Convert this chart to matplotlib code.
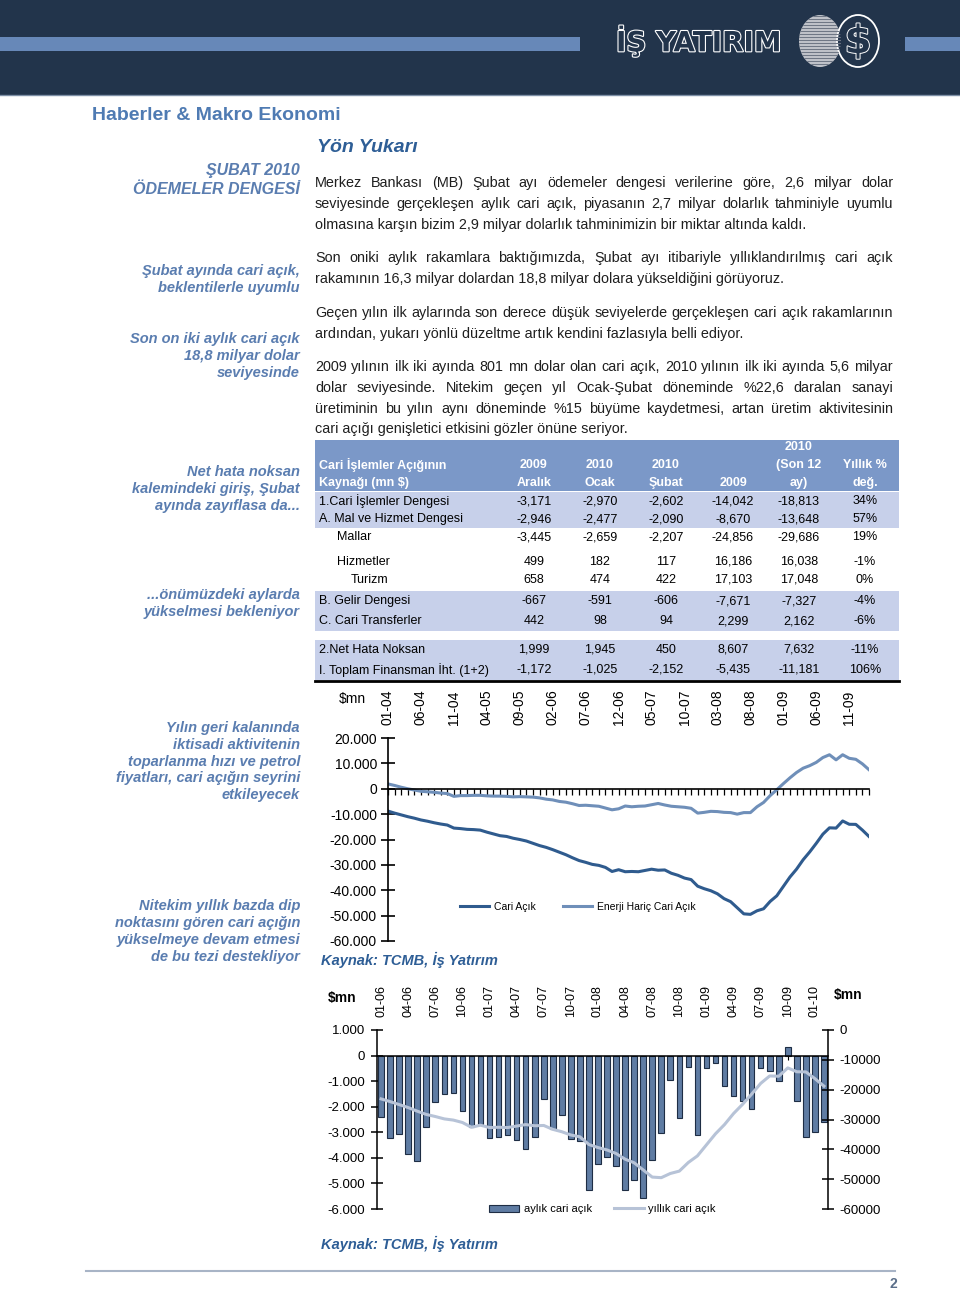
import numpy as np
import matplotlib.pyplot as plt
import matplotlib.patheffects as pe
from matplotlib.patches import Rectangle, Ellipse, Patch
from matplotlib.lines import Line2D
from matplotlib.ticker import FuncFormatter

plt.rcParams['font.family'] = ['Liberation Sans', 'DejaVu Sans']

# --- veri: 12 aylik cari acik ve enerji haric cari acik (01-04 .. 02-10, mn $)
cari_acik = [
    -8800, -9600, -10300, -11000, -11600, -12300, -12800, -13400, -13900, -14300, -15500, -15700,
    -16000, -16100, -16300, -17100, -17800, -18500, -18800, -19500, -20000, -20600, -21500, -22400,
    -23100, -24000, -25000, -26000, -27200, -28300, -29000, -29800, -30200, -31000, -32600, -31900,
    -32700, -32600, -32700, -32200, -31700, -32100, -32000, -33300, -34100, -35200, -35800, -38400,
    -39400, -40200, -41400, -43300, -44500, -46900, -49300, -49500, -48100, -47300, -44400, -42200,
    -38500, -34800, -31700, -28000, -24900, -21500, -17900, -15400, -15500, -12700, -14000, -14042,
    -16300, -18813,
]
enerji_haric = [
    1900, 1300, 600, 0, -500, -1000, -1200, -1400, -1700, -1900, -3000, -2700,
    -2700, -2600, -2600, -2800, -2900, -2900, -3000, -3200, -3100, -3200, -3300, -3600,
    -4100, -4400, -5000, -5300, -5900, -6600, -6500, -6700, -6900, -7600, -8300, -7900,
    -6800, -7100, -6900, -6800, -6300, -5800, -6400, -6900, -7100, -7300, -7700, -9600,
    -9300, -8900, -9000, -9300, -9400, -10000, -9400, -9400, -7100, -5400, -2700, -400,
    2000, 4300, 6400, 8100, 9100, 10400, 12300, 13400, 11400, 13400, 12000, 11600,
    9800, 7500,
]
etiket1 = ["01-04", "06-04", "11-04", "04-05", "09-05", "02-06", "07-06", "12-06",
           "05-07", "10-07", "03-08", "08-08", "01-09", "06-09", "11-09"]

# aylik cari acik (01-06 .. 02-10, mn $)
aylik = [
    -2400, -3220, -3050, -3840, -4110, -2790, -1810, -1520, -1480, -2180, -2790, -2660,
    -3220, -3190, -3090, -3320, -3640, -3190, -1700, -2860, -2310, -3280, -3340, -5260,
    -4230, -3950, -4300, -5260, -4880, -5580, -4080, -3030, -960, -2460, -430, -3090,
    -472, -301, -1190, -1570, -1770, -2100, -500, -590, -1000, 350, -1770, -3171,
    -2970, -2602,
]
etiket2 = ["01-06", "04-06", "07-06", "10-06", "01-07", "04-07", "07-07", "10-07", "01-08",
           "04-08", "07-08", "10-08", "01-09", "04-09", "07-09", "10-09", "01-10"]

# tablo
tablo_satirlar = ["1.Cari İşlemler Dengesi", "A. Mal ve Hizmet Dengesi", "Mallar", "Hizmetler",
                  "Turizm", "B. Gelir Dengesi", "C. Cari Transferler", "2.Net Hata Noksan",
                  "I. Toplam Finansman İht. (1+2)"]
aralik_2009 = [-3171, -2946, -3445, 499, 658, -667, 442, 1999, -1172]
ocak_2010 = [-2970, -2477, -2659, 182, 474, -591, 98, 1945, -1025]
subat_2010 = [-2602, -2090, -2207, 117, 422, -606, 94, 450, -2152]
yil_2009 = [-14042, -8670, -24856, 16186, 17103, -7671, 2299, 8607, -5435]
son12_2010 = [-18813, -13648, -29686, 16038, 17048, -7327, 2162, 7632, -11181]
yillik_deg = [34, 57, 19, -1, 0, -4, -6, -11, 106]

W, H = 960, 1295
navy = '#22344b'
blue_txt = '#5a7db0'
dark_blue = '#2e5e96'

fig = plt.figure(figsize=(9.6, 12.95), dpi=100)
bg = fig.add_axes([0, 0, 1, 1])
bg.set_xlim(0, W)
bg.set_ylim(H, 0)
bg.axis('off')
renderer = fig.canvas.get_renderer()

# --- ust bant
bg.add_patch(Rectangle((0, 0), W, 95, color=navy, lw=0))
bg.plot([0, W], [95, 95], color='#7d8fa6', lw=1)
bg.add_patch(Rectangle((0, 37), 580, 14, color='#6788b8', lw=0))
bg.add_patch(Rectangle((905, 37), 55, 14, color='#6788b8', lw=0))
bg.text(616, 41, 'İŞ YATIRIM', fontsize=20, fontweight='bold', family='DejaVu Sans',
        color=navy, va='center', path_effects=[pe.withStroke(linewidth=1.6, foreground='white')])
coin = Ellipse((820, 41), 42, 52, fc='#c3c6cc', ec='none')
bg.add_patch(coin)
for yy in np.arange(16, 67, 3):
    ln, = bg.plot([798, 842], [yy, yy], color='#6f7785', lw=0.8)
    ln.set_clip_path(coin)
bg.add_patch(Ellipse((858, 41), 42, 52, fc=navy, ec='white', lw=1.3))
bg.text(858, 42, '$', fontsize=28, fontweight='bold', family='DejaVu Sans', color=navy,
        ha='center', va='center', path_effects=[pe.withStroke(linewidth=1.4, foreground='white')])

bg.text(92, 116, 'Haberler & Makro Ekonomi', fontsize=14, fontweight='bold',
        color='#4f7bb3', va='center')
bg.text(317, 147, 'Yön Yukarı', fontsize=14, fontweight='bold', style='italic',
        color=dark_blue, va='center')

# --- sol sutun notlari
notlar = [
    (["ŞUBAT 2010", "ÖDEMELER DENGESİ"], 171, 11.5, 19),
    (["Şubat ayında cari açık,", "beklentilerle uyumlu"], 271, 10.5, 17),
    (["Son on iki aylık cari açık", "18,8 milyar dolar", "seviyesinde"], 339, 10.5, 17),
    (["Net hata noksan", "kalemindeki giriş, Şubat", "ayında zayıflasa da..."], 472, 10.5, 17),
    (["...önümüzdeki aylarda", "yükselmesi bekleniyor"], 595, 10.5, 17),
    (["Yılın geri kalanında", "iktisadi aktivitenin", "toparlanma hızı ve petrol",
      "fiyatları, cari açığın seyrini", "etkileyecek"], 728, 10.5, 16.8),
    (["Nitekim yıllık bazda dip", "noktasını gören cari açığın", "yükselmeye devam etmesi",
      "de bu tezi destekliyor"], 906, 10.5, 17),
]
for satirlar, y0, fs, ls in notlar:
    for k, s in enumerate(satirlar):
        bg.text(300, y0 + k * ls, s, fontsize=fs, fontweight='bold', style='italic',
                color=blue_txt, ha='right', va='center')


# --- govde metni (iki yana yasli)
def put_line(text, y, justify, x0=315, x1=893):
    kw = dict(fontsize=10.4, color='#1f1f1f', va='center')
    if not justify:
        bg.text(x0, y, text, **kw)
        return
    words = text.split()
    objs = [bg.text(x0, y, w, **kw) for w in words]
    widths = [o.get_window_extent(renderer).width for o in objs]
    gap = (x1 - x0 - sum(widths)) / (len(words) - 1)
    x = x0
    for o, w in zip(objs, widths):
        o.set_x(x)
        x += w + gap


paragraflar = [
    (183, ["Merkez Bankası (MB) Şubat ayı ödemeler dengesi verilerine göre, 2,6 milyar dolar",
           "seviyesinde gerçekleşen aylık cari açık, piyasanın 2,7 milyar dolarlık tahminiyle uyumlu",
           "olmasına karşın bizim 2,9 milyar dolarlık tahminimizin bir miktar altında kaldı."]),
    (258, ["Son oniki aylık rakamlara baktığımızda, Şubat ayı itibariyle yıllıklandırılmış cari açık",
           "rakamının 16,3 milyar dolardan 18,8 milyar dolara yükseldiğini görüyoruz."]),
    (313, ["Geçen yılın ilk aylarında son derece düşük seviyelerde gerçekleşen cari açık rakamlarının",
           "ardından, yukarı yönlü düzeltme artık kendini fazlasıyla belli ediyor."]),
    (367, ["2009 yılının ilk iki ayında 801 mn dolar olan cari açık, 2010 yılının ilk iki ayında 5,6 milyar",
           "dolar seviyesinde. Nitekim geçen yıl Ocak-Şubat döneminde %22,6 daralan sanayi",
           "üretiminin bu yılın aynı döneminde %15 büyüme kaydetmesi, artan üretim aktivitesinin",
           "cari açığı genişletici etkisini gözler önüne seriyor."]),
]
for y0, satirlar in paragraflar:
    for k, s in enumerate(satirlar):
        put_line(s, y0 + k * 20.8, k < len(satirlar) - 1)

# --- tablo
tx0, tx1 = 315, 899
head_c = '#7b98c8'
row_c = '#c7d0ea'
bg.add_patch(Rectangle((tx0, 440), tx1 - tx0, 51, color=head_c, lw=0))
for ya, yb in [(492, 510), (510, 528), (591, 611), (611, 631), (640, 660), (660, 680)]:
    bg.add_patch(Rectangle((tx0, ya), tx1 - tx0, yb - ya, color=row_c, lw=0))
bg.plot([tx0, tx1], [681, 681], color='black', lw=2)

col_x = [534, 600, 666, 733, 799, 865]
hdr = dict(fontsize=9, fontweight='bold', color='white', va='center')
bg.text(col_x[4], 447, '2010', ha='center', **hdr)
bg.text(319, 465, 'Cari İşlemler Açığının', **hdr)
bg.text(319, 483, 'Kaynağı (mn $)', **hdr)
for cx, a, b in zip(col_x, ['2009', '2010', '2010', '', '(Son 12', 'Yıllık %'],
                    ['Aralık', 'Ocak', 'Şubat', '2009', 'ay)', 'değ.']):
    bg.text(cx, 465, a, ha='center', **hdr)
    bg.text(cx, 483, b, ha='center', **hdr)

row_y = [501, 519, 537, 562, 580, 601, 621, 650, 670]
row_x = [319, 319, 337, 337, 351, 319, 319, 319, 319]
cols = [aralik_2009, ocak_2010, subat_2010, yil_2009, son12_2010]
for i, lab in enumerate(tablo_satirlar):
    bg.text(row_x[i], row_y[i], lab, fontsize=9, color='black', va='center')
    for cx, col in zip(col_x, cols):
        bg.text(cx, row_y[i], f'{col[i]:,}', fontsize=9, color='black', ha='center', va='center')
    bg.text(col_x[5], row_y[i], f'{yillik_deg[i]}%', fontsize=9, color='black',
            ha='center', va='center')

dot_fmt = FuncFormatter(lambda v, p: f'{v:,.0f}'.replace(',', '.'))

# --- grafik 1
ax1 = fig.add_axes([388 / W, 1 - 941 / H, 481 / W, 203 / H])
x1 = np.arange(len(cari_acik))
ax1.plot(x1, cari_acik, color='#2f5b8e', lw=2.2, label='Cari Açık')
ax1.plot(x1, enerji_haric, color='#6f8fb9', lw=2.2, label='Enerji Hariç Cari Açık')
ax1.set_xlim(0, len(cari_acik) - 1)
ax1.set_ylim(-60000, 20000)
ax1.set_yticks(np.arange(-60000, 20001, 10000))
ax1.yaxis.set_major_formatter(dot_fmt)
ax1.set_xticks(x1)
ax1.tick_params(axis='x', direction='out', length=4, width=0.9, labelbottom=False)
ax1.tick_params(axis='y', direction='inout', length=10, width=1.2, labelsize=10, pad=3)
for s in ['top', 'right']:
    ax1.spines[s].set_visible(False)
ax1.spines['bottom'].set_position(('data', 0))
ax1.spines['left'].set_linewidth(1.2)
ax1.spines['bottom'].set_linewidth(1.2)
ax1.patch.set_alpha(0)
sec1 = ax1.secondary_xaxis('top')
sec1.set_xticks(np.arange(len(etiket1)) * 5, etiket1)
sec1.tick_params(length=0, pad=9, labelsize=10, labelrotation=90)
sec1.spines['top'].set_visible(False)
ax1.legend(loc='center', bbox_to_anchor=(0.395, 0.167), ncol=2, frameon=False, fontsize=7.5,
           handlelength=2.8, handletextpad=0.5, columnspacing=2.6)
bg.text(352, 699, '$mn', fontsize=10, ha='center', va='center')
bg.text(321, 960, 'Kaynak: TCMB, İş Yatırım', fontsize=10.5, fontweight='bold', style='italic',
        color=dark_blue, va='center')

# --- grafik 2
ax2 = fig.add_axes([377 / W, 1 - 1209 / H, 451 / W, 179 / H])
x2 = np.arange(len(aylik))
ax2.bar(x2, aylik, width=0.62, color='#5f7ca3', edgecolor='#1e2d44', linewidth=0.8, zorder=2)
ax2.set_xlim(-0.45, len(aylik) - 0.55)
ax2.set_ylim(-6000, 1000)
ax2.set_yticks(np.arange(-6000, 1001, 1000))
ax2.yaxis.set_major_formatter(dot_fmt)
ax2.set_xticks(x2)
ax2.tick_params(axis='x', direction='out', length=3, width=0.8, labelbottom=False)
ax2.tick_params(axis='y', direction='inout', length=9, width=1.1, labelsize=9.5, pad=4)
for s in ['top', 'right']:
    ax2.spines[s].set_visible(False)
ax2.spines['bottom'].set_position(('data', 0))
ax2.spines['left'].set_linewidth(1.1)
ax2.spines['bottom'].set_linewidth(1.1)
ax2.patch.set_alpha(0)
ax2b = ax2.twinx()
ax2b.plot(x2, cari_acik[-len(aylik):], color='#b7c3d7', lw=2.2)
ax2b.set_ylim(-60000, 0)
ax2b.set_yticks(np.arange(-60000, 1, 10000))
ax2b.yaxis.set_major_formatter(FuncFormatter(lambda v, p: f'{v:.0f}'))
ax2b.tick_params(axis='y', direction='inout', length=9, width=1.1, labelsize=9.5, pad=4)
for s in ['top', 'bottom', 'left']:
    ax2b.spines[s].set_visible(False)
ax2b.spines['right'].set_linewidth(1.1)
sec2 = ax2.secondary_xaxis('top')
sec2.set_xticks(np.arange(len(etiket2)) * 3, etiket2)
sec2.tick_params(length=0, pad=9, labelsize=9, labelrotation=90)
sec2.spines['top'].set_visible(False)
handles = [Patch(facecolor='#5f7ca3', edgecolor='#1e2d44', linewidth=0.8),
           Line2D([], [], color='#b7c3d7', lw=2.2)]
ax2b.legend(handles, ['aylık cari açık', 'yıllık cari açık'], loc='center',
            bbox_to_anchor=(0.5, 0.0), ncol=2, frameon=False, fontsize=8,
            handlelength=2.7, handleheight=0.6, handletextpad=0.4, columnspacing=2.0)
bg.text(342, 998, '$mn', fontsize=10, fontweight='bold', ha='center', va='center')
bg.text(848, 995, '$mn', fontsize=10, fontweight='bold', ha='center', va='center')
bg.text(321, 1244, 'Kaynak: TCMB, İş Yatırım', fontsize=10.5, fontweight='bold', style='italic',
        color=dark_blue, va='center')

# --- alt cizgi
bg.plot([86, 895], [1271, 1271], color='#a8b4c6', lw=1.5)
bg.text(893, 1284, '2', fontsize=10, fontweight='bold', color='#5b6f8a', ha='center', va='center')

fig.savefig('out.png', dpi=100)
